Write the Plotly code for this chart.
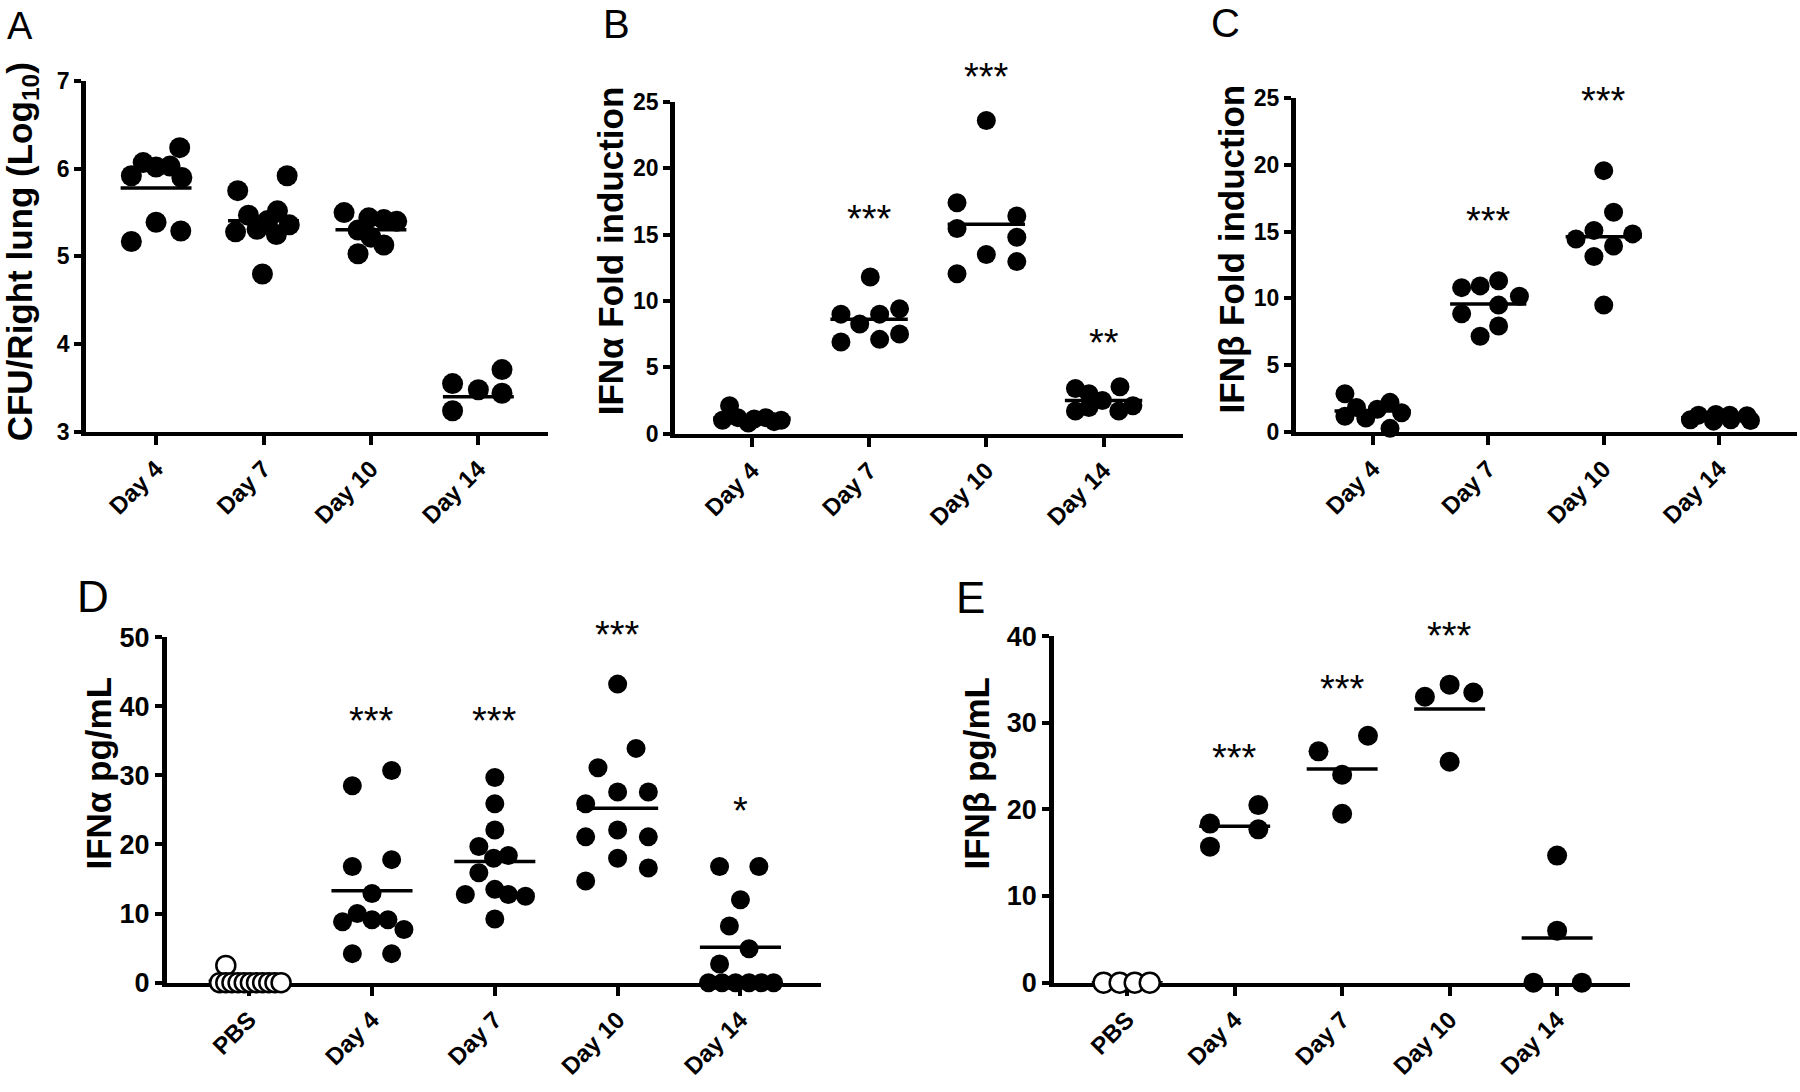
import plotly.graph_objects as go

# ---------------- data ----------------
cats4 = ["Day 4", "Day 7", "Day 10", "Day 14"]
cats5 = ["PBS", "Day 4", "Day 7", "Day 10", "Day 14"]

# Panel A: CFU/Right lung (Log10)
A_vals = [
    [5.92, 6.07, 6.02, 6.03, 5.90, 6.24, 5.17, 5.39, 5.29],
    [5.75, 5.92, 5.47, 5.52, 5.28, 5.31, 5.41, 5.36, 5.25, 4.80],
    [5.50, 5.44, 5.42, 5.40, 5.30, 5.22, 5.13, 5.03],
    [3.55, 3.48, 3.71, 3.44, 3.24, 2.98],
]
A_dx = [
    [-0.23, -0.12, 0.0, 0.13, 0.24, 0.22, -0.23, 0.0, 0.23],
    [-0.24, 0.22, -0.14, 0.13, -0.26, -0.06, 0.04, 0.24, 0.12, -0.01],
    [-0.25, -0.02, 0.12, 0.24, -0.12, 0.0, 0.12, -0.12],
    [-0.24, 0.0, 0.22, 0.22, -0.24, 0.0],
]

# Panel B: IFNa fold induction
B_vals = [
    [2.1, 1.0, 1.2, 1.1, 1.2, 1.0, 0.8, 0.9],
    [11.8, 9.0, 8.25, 9.0, 9.4, 6.9, 7.1, 7.5],
    [23.6, 17.4, 15.45, 16.4, 14.8, 13.5, 12.96, 12.04],
    [3.4, 3.0, 3.53, 1.7, 1.96, 2.49, 1.7, 2.1],
]
B_dx = [
    [-0.19, -0.25, -0.12, 0.02, 0.12, 0.25, -0.03, 0.19],
    [0.01, -0.24, -0.08, 0.09, 0.26, -0.24, 0.09, 0.26],
    [0.0, -0.25, -0.25, 0.26, 0.26, 0.0, 0.26, -0.25],
    [-0.24, -0.125, 0.14, -0.24, -0.125, -0.01, 0.13, 0.25],
]
B_stars = [None, "***", "***", "**"]
B_star_y = [None, 15.9, 26.6, 6.5]

# Panel C: IFNb fold induction
C_vals = [
    [2.86, 1.17, 1.82, 1.04, 1.69, 2.21, 1.43, 0.26],
    [10.81, 10.94, 11.33, 10.16, 8.85, 9.5, 7.94, 7.16],
    [19.58, 16.46, 15.1, 14.45, 14.84, 13.93, 13.15, 9.5],
    [1.25, 1.3, 1.25, 1.2, 0.9, 0.85, 0.8, 0.9],
]
C_dx = [
    [-0.24, -0.24, -0.14, -0.06, 0.04, 0.15, 0.25, 0.15],
    [-0.23, -0.07, 0.09, 0.27, -0.23, 0.09, 0.09, -0.07],
    [0.0, 0.085, -0.085, -0.24, 0.25, 0.085, -0.085, 0.0],
    [-0.18, -0.03, 0.09, 0.24, -0.25, 0.27, -0.05, 0.1],
]
C_stars = [None, "***", "***", None]
C_star_y = [None, 15.5, 24.5, None]

# Panel D: IFNa pg/mL
D_vals = [
    [2.5, 0, 0, 0, 0, 0, 0, 0, 0, 0, 0, 0],
    [28.5, 30.7, 16.8, 17.8, 12.9, 8.8, 10.0, 9.1, 9.1, 7.7, 4.2, 4.2],
    [29.7, 25.9, 22.1, 19.7, 18.4, 18.0, 15.9, 12.75, 13.5, 12.75, 12.5, 9.2],
    [43.2, 33.9, 31.1, 25.9, 27.6, 27.6, 21.1, 22.1, 21.1, 18.0, 16.6, 14.7],
    [16.8, 16.8, 12.0, 8.2, 4.9, 2.7, 0, 0, 0, 0, 0, 0],
]
D_dx = [
    [-0.19, -0.24, -0.19, -0.14, -0.09, -0.04, 0.01, 0.06, 0.11, 0.16, 0.21, 0.26],
    [-0.16, 0.16, -0.16, 0.16, 0.0, -0.24, -0.12, 0.0, 0.13, 0.26, -0.16, 0.16],
    [0.0, 0.0, 0.0, -0.13, 0.11, -0.01, -0.13, -0.24, 0.0, 0.11, 0.25, 0.0],
    [0.0, 0.15, -0.16, -0.26, 0.0, 0.25, -0.26, 0.0, 0.25, 0.0, 0.25, -0.26],
    [-0.17, 0.15, 0.0, -0.09, 0.07, -0.17, -0.26, -0.15, -0.04, 0.07, 0.17, 0.27],
]
D_stars = [None, "***", "***", "***", "*"]
D_star_y = [None, 37.3, 37.3, 49.8, 24.2]

# Panel E: IFNb pg/mL
E_vals = [
    [0, 0, 0, 0],
    [18.36, 15.7, 20.5, 17.7],
    [26.7, 28.5, 24.0, 19.5],
    [33.0, 34.4, 33.5, 25.5],
    [14.67, 6.0, 0, 0],
]
E_dx = [
    [-0.22, -0.07, 0.07, 0.21],
    [-0.23, -0.23, 0.22, 0.22],
    [-0.22, 0.24, 0.0, 0.0],
    [-0.23, 0.0, 0.22, 0.0],
    [0.0, 0.0, -0.22, 0.23],
]
E_stars = [None, "***", "***", "***", None]
E_star_y = [None, 25.5, 33.4, 39.6, None]

# ---------------- layout / style ----------------
W, H = 1800, 1092
FONT = "Liberation Sans, Arial, Helvetica, sans-serif"


def px_x(p):
    return p / W


def px_y(p):
    return 1 - p / H


panels = [
    dict(key="A", vals=A_vals, dx=A_dx, cats=cats4, stars=None, star_y=None,
         xdom=(85.7, 548.2), ydom=(67.9, 428.6), xr=(-0.655, 3.65), yr=(3, 7),
         yt=[3, 4, 5, 6, 7], msize=21, open_first=False, ytfs=23, xtfs=24,
         title="CFU/Right lung (Log<sub>10</sub>)", title_xy=(22, 244),
         letter_xy=(20, 11), letter_fs=38),
    dict(key="B", vals=B_vals, dx=B_dx, cats=cats4, stars=B_stars, star_y=B_star_y,
         xdom=(674.7, 1183.3), ydom=(89.3, 430.4), xr=(-0.658, 3.68), yr=(0, 25),
         yt=[0, 5, 10, 15, 20, 25], msize=19, open_first=False, ytfs=23, xtfs=24,
         title="IFNα Fold induction", title_xy=(610, 243),
         letter_xy=(616, 9), letter_fs=40),
    dict(key="C", vals=C_vals, dx=C_dx, cats=cats4, stars=C_stars, star_y=C_star_y,
         xdom=(1295.5, 1796.7), ydom=(85.7, 428.6), xr=(-0.668, 3.67), yr=(0, 25),
         yt=[0, 5, 10, 15, 20, 25], msize=19, open_first=False, ytfs=23, xtfs=24,
         title="IFNβ Fold induction", title_xy=(1231, 241),
         letter_xy=(1225, 8), letter_fs=40),
    dict(key="D", vals=D_vals, dx=D_dx, cats=cats5, stars=D_stars, star_y=D_star_y,
         xdom=(166.5, 820.9), ydom=(639.7, 995.0), xr=(-0.673, 4.655), yr=(0, 50),
         yt=[0, 10, 20, 30, 40, 50], msize=19, open_first=True, ytfs=27, xtfs=24,
         title="IFNα pg/mL", title_xy=(99, 780), letter_xy=(93, 598), letter_fs=44),
    dict(key="E", vals=E_vals, dx=E_dx, cats=cats5, stars=E_stars, star_y=E_star_y,
         xdom=(1053.8, 1630.2), ydom=(638.7, 995.0), xr=(-0.683, 4.68), yr=(0, 40),
         yt=[0, 10, 20, 30, 40], msize=20, open_first=True, ytfs=27, xtfs=24,
         title="IFNβ pg/mL", title_xy=(977, 780), letter_xy=(970, 599), letter_fs=44),
]

fig = go.Figure()
annotations = []
layout_axes = {}

for i, p in enumerate(panels):
    n = i + 1
    xa = "x" if n == 1 else f"x{n}"
    ya = "y" if n == 1 else f"y{n}"
    xkey = "xaxis" if n == 1 else f"xaxis{n}"
    ykey = "yaxis" if n == 1 else f"yaxis{n}"

    layout_axes[xkey] = dict(
        domain=[px_x(p["xdom"][0]), px_x(p["xdom"][1])],
        range=list(p["xr"]), anchor=ya,
        tickmode="array", tickvals=list(range(len(p["cats"]))), ticktext=p["cats"],
        tickangle=-45, showline=True, linewidth=4.5, linecolor="black",
        ticks="outside", ticklen=9, tickwidth=4, tickcolor="black",
        showgrid=False, zeroline=False, layer="below traces", fixedrange=True,
        tickfont=dict(family=FONT, size=p["xtfs"], color="black", weight="bold"),
    )
    layout_axes[ykey] = dict(
        domain=[px_y(p["ydom"][1]), px_y(p["ydom"][0])],
        range=list(p["yr"]), anchor=xa,
        tickmode="array", tickvals=p["yt"], ticktext=[str(v) for v in p["yt"]],
        showline=True, linewidth=4.5, linecolor="black",
        ticks="outside", ticklen=7, tickwidth=4, tickcolor="black",
        showgrid=False, zeroline=False, layer="below traces", fixedrange=True,
        tickfont=dict(family=FONT, size=p["ytfs"], color="black", weight="bold"),
    )

    # mean lines
    for g, vals in enumerate(p["vals"]):
        m = sum(vals) / len(vals)
        fig.add_trace(go.Scatter(
            x=[g - 0.33, g + 0.33], y=[m, m], mode="lines",
            line=dict(color="black", width=3.5), xaxis=xa, yaxis=ya,
            showlegend=False, hoverinfo="skip", cliponaxis=False))

    # points
    for g, (vals, dxs) in enumerate(zip(p["vals"], p["dx"])):
        is_open = p["open_first"] and g == 0
        fig.add_trace(go.Scatter(
            x=[g + d for d in dxs], y=vals, mode="markers",
            marker=dict(size=p["msize"],
                        color="white" if is_open else "black",
                        line=dict(color="black", width=2.5 if is_open else 0)),
            xaxis=xa, yaxis=ya, showlegend=False, cliponaxis=False))

    # significance stars (y in data units, placed via the axis domain so
    # that marks above the axis range are still drawn)
    if p["stars"]:
        y0, y1 = p["yr"]
        for g, (s, sy) in enumerate(zip(p["stars"], p["star_y"])):
            if s:
                annotations.append(dict(
                    x=g, y=(sy - y0) / (y1 - y0), xref=xa, yref=f"{ya} domain",
                    text=s, showarrow=False,
                    xanchor="center", yanchor="middle", yshift=4,
                    font=dict(family=FONT, size=38, color="black")))

    # y-axis title
    tx, ty = p["title_xy"]
    annotations.append(dict(
        x=px_x(tx), y=px_y(ty), xref="paper", yref="paper", text=p["title"],
        textangle=-90, showarrow=False, xanchor="center", yanchor="middle",
        font=dict(family=FONT, size=35, color="black", weight="bold")))

    # panel letter
    lx, ly = p["letter_xy"]
    annotations.append(dict(
        x=px_x(lx), y=px_y(ly), xref="paper", yref="paper", text=p["key"],
        showarrow=False, xanchor="center", yanchor="middle",
        font=dict(family=FONT, size=p["letter_fs"], color="black")))

fig.update_layout(
    width=W, height=H, margin=dict(l=0, r=0, t=0, b=0),
    paper_bgcolor="white", plot_bgcolor="white",
    annotations=annotations, showlegend=False, **layout_axes)

fig.write_html("out.html",
               config={"displayModeBar": False, "staticPlot": True},
               post_script="document.body.style.margin='0';"
                           "document.body.style.overflow='hidden';")
